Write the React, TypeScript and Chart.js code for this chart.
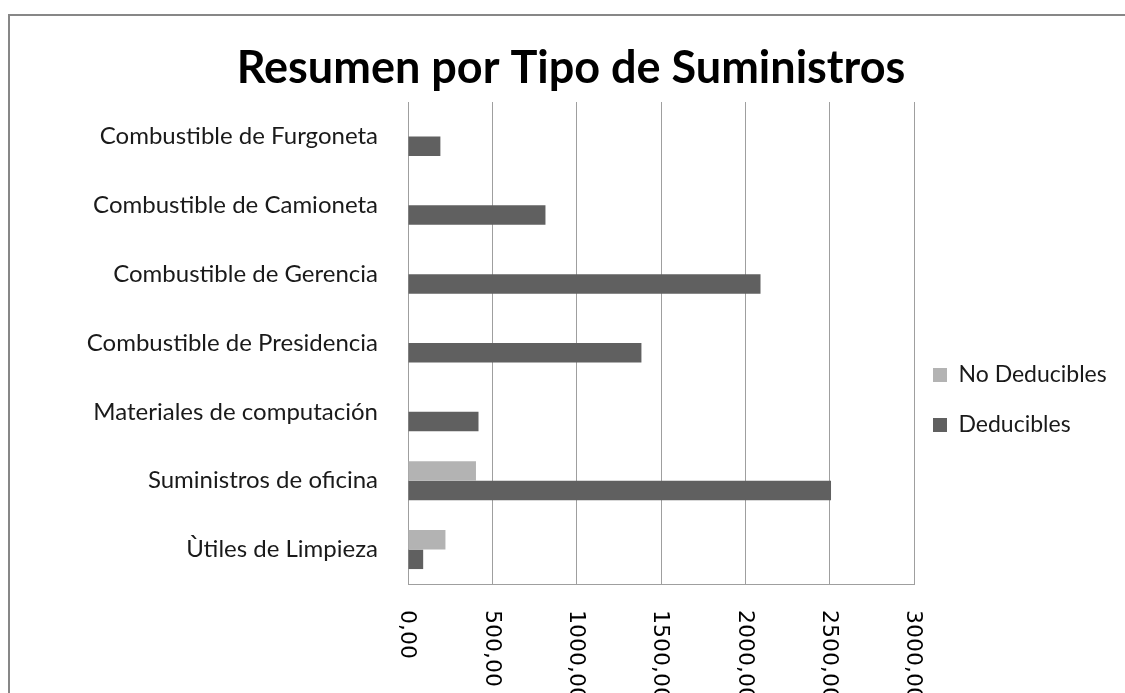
import React, { useEffect, useRef } from "react";
import { Chart, registerables } from "chart.js";

Chart.register(...registerables);

const categories = [
  "Combustible de Furgoneta",
  "Combustible de Camioneta",
  "Combustible de Gerencia",
  "Combustible de Presidencia",
  "Materiales de computación",
  "Suministros de oficina",
  "Ùtiles de Limpieza",
];
const noDeducibles = [0, 0, 0, 0, 0, 403, 222];
const deducibles = [192, 815, 2090, 1384, 418, 2508, 90];
const xTickLabels = ["0,00", "500,00", "1000,00", "1500,00", "2000,00", "2500,00", "3000,00"];
const seriesNames = ["No Deducibles", "Deducibles"];
const titleText = "Resumen por Tipo de Suministros";

const W = 1122;
const H = 776;
const PLOT_RIGHT = 904;
const PLOT_LEFT = 398;
const X_AXIS_H = 208;
const GRID = "#9f9f9f";

const rotatedTicks = {
  id: "rotatedTicks",
  afterDraw(chart: any) {
    const xs = chart.scales.x;
    const ctx = chart.ctx;
    ctx.save();
    ctx.font = "22px 'DejaVu Sans'";
    ctx.fillStyle = "#000";
    ctx.textAlign = "left";
    ctx.textBaseline = "middle";
    xs.ticks.forEach((t: any, i: number) => {
      const px = xs.getPixelForValue(t.value);
      ctx.save();
      ctx.translate(px - 1, chart.chartArea.bottom + 26);
      ctx.rotate(Math.PI / 2);
      ctx.fillText(xTickLabels[i] ?? String(t.value), 0, 0);
      ctx.restore();
    });
    ctx.restore();
  },
};

export default function App() {
  const ref = useRef<HTMLCanvasElement | null>(null);
  useEffect(() => {
    if (!ref.current) return;
    let yW = PLOT_LEFT;
    const chart = new Chart(ref.current, {
      type: "bar",
      data: {
        labels: categories,
        datasets: [
          { label: seriesNames[0], data: noDeducibles, backgroundColor: "#b3b3b3", borderWidth: 0 },
          { label: seriesNames[1], data: deducibles, backgroundColor: "#606060", borderWidth: 0 },
        ],
      },
      options: {
        indexAxis: "y",
        responsive: false,
        animation: false,
        devicePixelRatio: 1,
        datasets: { bar: { categoryPercentage: 0.566, barPercentage: 1 } },
        layout: { padding: { left: 0, right: 0, top: 0, bottom: 0 } },
        scales: {
          x: {
            type: "linear",
            min: 0,
            max: 3000,
            ticks: { stepSize: 500, display: false },
            grid: { color: GRID, drawTicks: false, lineWidth: 1 },
            border: { display: true, color: GRID },
            afterFit: (s: any) => {
              s.height = X_AXIS_H;
            },
          },
          y: {
            type: "category",
            grid: { display: false, drawTicks: false },
            border: { display: true, color: GRID },
            ticks: {
              padding: 30,
              color: "#1a1a1a",
              font: { family: "Lato", size: 24 },
            },
            afterFit: (s: any) => {
              s.width = yW;
            },
          },
        },
        plugins: {
          title: {
            display: true,
            text: titleText,
            color: "#000",
            font: { family: "Lato", size: 45, weight: "bold", lineHeight: 1.2 },
            padding: { top: 25, bottom: 7 },
          },
          legend: {
            position: "right",
            labels: {
              boxWidth: 14,
              boxHeight: 14,
              padding: 19,
              color: "#1a1a1a",
              font: { family: "Lato", size: 23, lineHeight: "31px" },
              generateLabels: (c: any) =>
                (Chart.defaults.plugins.legend.labels.generateLabels as any)(c).map((l: any) => ({
                  ...l,
                  text: [l.text],
                })),
            },
          },
          tooltip: { enabled: false },
        },
      } as any,
      plugins: [rotatedTicks],
    });
    const P = Math.max(0, chart.chartArea.right - PLOT_RIGHT);
    yW = PLOT_LEFT - P;
    (chart.options as any).layout.padding = { left: P, right: P, top: 0, bottom: 0 };
    chart.update();
    return () => chart.destroy();
  }, []);

  return (
    <div
      style={{
        position: "fixed",
        left: 0,
        top: 0,
        width: 1125,
        height: 693,
        overflow: "hidden",
        background: "#fff",
      }}
    >
      <div
        style={{
          position: "absolute",
          left: 8,
          top: 14,
          width: W,
          height: H,
          borderLeft: "2px solid #878787",
          borderTop: "2px solid #878787",
          background: "#fff",
        }}
      >
        <canvas ref={ref} width={W} height={H} style={{ display: "block", width: W, height: H }} />
      </div>
    </div>
  );
}
